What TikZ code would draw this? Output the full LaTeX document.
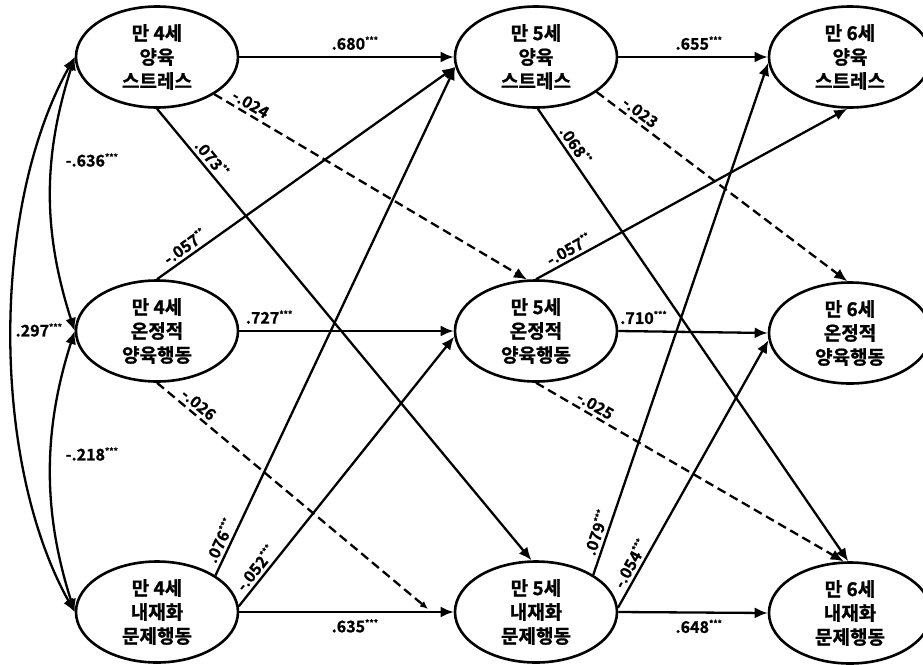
\documentclass[tikz,border=0pt]{standalone}
\usepackage{fontspec}
\setmainfont{Noto Sans CJK KR}[BoldFont={Noto Sans CJK KR Bold},BoldFeatures={FakeBold=1}]
\usetikzlibrary{shapes.geometric,arrows.meta}
\newcommand\stars[1]{\textsuperscript{\fontsize{8.5}{8.5}\selectfont #1}}
\tikzset{
  ell/.style={draw, line width=2.6pt, ellipse, minimum width=162pt, minimum height=101pt, inner sep=0pt},
  kr/.style={font=\fontsize{19}{24}\selectfont\bfseries, align=center, inner sep=0pt},
  arr/.style={line width=2.3pt, -{Latex[length=13pt,width=11pt]}},
  dsh/.style={arr, dash pattern=on 9pt off 5pt},
  smalltip/.style={line width=2.3pt, dash pattern=on 9pt off 5pt, -{Latex[length=8pt,width=7pt]}},
  cor/.style={line width=2.3pt, {Latex[length=13pt,width=11pt]}-{Latex[length=13pt,width=11pt]}},
  coef/.style={font=\fontsize{16}{18}\selectfont\bfseries, inner sep=2pt},
  sl/.style={coef, sloped, above=1pt}
}
\begin{document}
\begin{tikzpicture}[x=1pt,y=1pt]
\useasboundingbox (0,0) rectangle (923,-664);
% ellipses
\node[ell] (S4) at (157,-57) {};
\node[ell] (W4) at (157,-331) {};
\node[ell] (I4) at (157,-612) {};
\node[ell] (S5) at (536,-57) {};
\node[ell] (W5) at (536,-331) {};
\node[ell] (I5) at (536,-612) {};
\node[ell] (S6) at (850,-57) {};
\node[ell] (W6) at (850,-333) {};
\node[ell] (I6) at (850,-613) {};
% texts
\node[kr] (tS4) at (S4) {만 4세\\양육\\스트레스};
\node[kr] (tW4) at (W4) {만 4세\\온정적\\양육행동};
\node[kr] (tI4) at (I4) {만 4세\\내재화\\문제행동};
\node[kr] (tS5) at (S5) {만 5세\\양육\\스트레스};
\node[kr] (tW5) at (W5) {만 5세\\온정적\\양육행동};
\node[kr] (tI5) at (I5) {만 5세\\내재화\\문제행동};
\node[kr] (tS6) at (S6) {만 6세\\양육\\스트레스};
\node[kr] (tW6) at (W6) {만 6세\\온정적\\양육행동};
\node[kr] (tI6) at (I6) {만 6세\\내재화\\문제행동};
% correlations
\draw[cor] (S4.west) .. controls +(-32,-100) and +(-32,100) .. (W4.west);
\draw[cor] (W4.west) .. controls +(-32,-100) and +(-32,100) .. (I4.west);
\draw[cor] (S4.west) .. controls +(-84,-150) and +(-84,150) .. (I4.west);
\node[coef] (c1) at (92,-160) {-.636\stars{***}};
\node[coef] (c2) at (92,-454) {-.218\stars{***}};
\node[coef] (c3) at (39,-330) {.297\stars{***}};
% horizontal paths
\draw[arr] (S4.east) -- node[coef, above=4pt, pos=0.54] (l1) {.680\stars{***}} (S5.west);
\draw[arr] (S5.east) -- node[coef, above=4pt, pos=0.54] (l2) {.655\stars{***}} (S6.west);
\draw[arr] (W4.east) -- node[coef, above=4pt, pos=0.14] (l3) {.727\stars{***}} (W5.west);
\draw[arr] (W5.east) -- node[coef, above=4pt, pos=0.17] (l4) {.710\stars{***}} (W6.west);
\draw[arr] (I4.east) -- node[coef, below=4pt, pos=0.54] (l5) {.635\stars{***}} (I5.west);
\draw[arr] (I5.east) -- node[coef, below=4pt, pos=0.54] (l6) {.648\stars{***}} (I6.west);
% cross paths 4 -> 5
\coordinate (m1) at (428,-609);
\draw[dsh] (S4.-33) -- node[sl, pos=0.1] (l7) {-.024} (W5.100);
\draw[arr] (S4.south) -- node[sl, pos=0.125] (l8) {.073\stars{**}} (I5.95);
\draw[arr] (W4.north) -- node[sl, pos=0.114] (l9) {-.057\stars{**}} (S5.187);
\draw[arr] (I4.32) -- node[sl, pos=0.06] (l10) {.076\stars{***}} (S5.187);
\draw[arr] (I4.4) -- node[sl, pos=0.118] (l11) {-.052\stars{***}} (W5.184);
\draw[smalltip] (W4.south) -- node[sl, pos=0.13] (l12) {-.026} (m1);
% cross paths 5 -> 6
\draw[dsh] (S5.-30) -- node[sl, pos=0.15] (l13) {-.023} (W6.93);
\draw[arr] (S5.-88) -- node[sl, pos=0.094] (l14) {.068\stars{**}} (I6.92);
\draw[arr] (W5.90) -- node[sl, pos=0.122] (l15) {-.057\stars{**}} (S6.-93);
\draw[dsh] (W5.south) -- node[sl, pos=0.176] (l16) {-.025} (I6.97);
\draw[arr] (I5.33) -- node[sl, pos=0.076] (l17) {.079\stars{***}} (S6.184);
\draw[arr] (I5.3) -- node[sl, pos=0.146] (l18) {-.054\stars{***}} (W6.185);
\end{tikzpicture}
\end{document}
